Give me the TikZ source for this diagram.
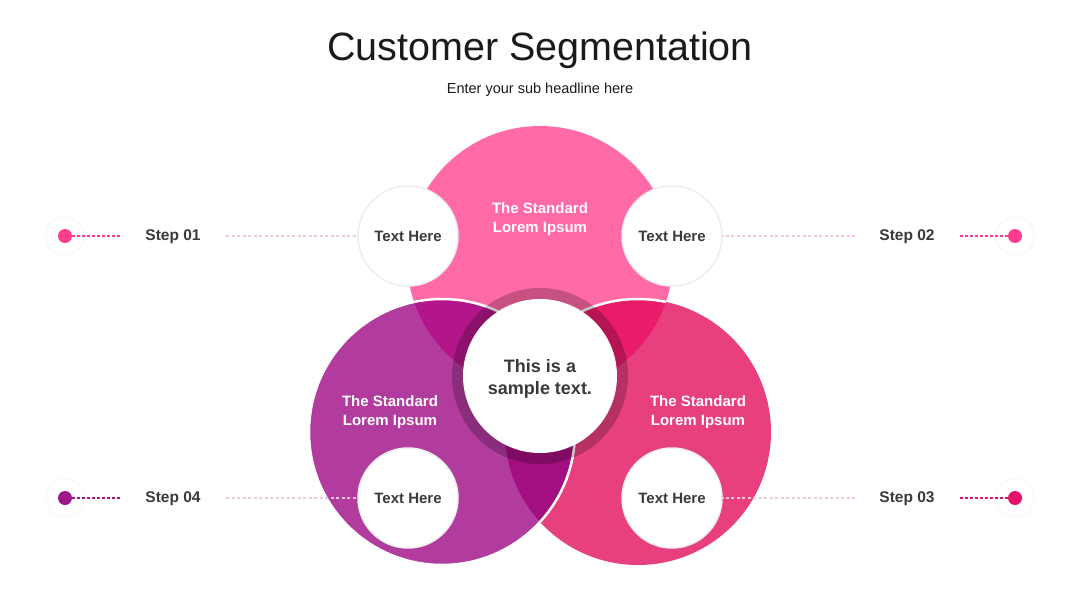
\documentclass[tikz,border=0pt]{standalone}
\usepackage{fontspec}
\setmainfont{Liberation Sans}
\definecolor{ctop}{HTML}{FF6AA7}
\definecolor{cleft}{HTML}{B23C9E}
\definecolor{cright}{HTML}{E8407F}
\definecolor{ctl}{HTML}{B3168A}
\definecolor{ctr}{HTML}{E91C6A}
\definecolor{clr}{HTML}{A30F80}
\definecolor{dpink}{HTML}{FF3D8F}
\definecolor{dpurple}{HTML}{A0168A}
\definecolor{dred}{HTML}{E2126A}
\definecolor{faint}{HTML}{F3C6D9}
\definecolor{txt}{HTML}{3A3A3A}
\definecolor{ttl}{HTML}{1A1A1A}
\tikzset{
  smallc/.style={circle, fill=white, draw=black!7, line width=1.5pt, minimum size=100pt, inner sep=0pt, font=\bfseries\fontsize{15}{18}\selectfont, text=txt},
  steplbl/.style={font=\bfseries\fontsize{15.5}{18}\selectfont, text=txt},
  whitelbl/.style={font=\bfseries\fontsize{15}{19}\selectfont, text=white, align=center},
  dotdash/.style={line width=1.3pt, dash pattern=on 3pt off 2pt},
  faintdash/.style={faint, line width=1.2pt, dash pattern=on 3pt off 2.5pt},
  halo/.style={draw=black!3, line width=1pt, fill=white},
}
\begin{document}
\begin{tikzpicture}[x=1pt,y=-1pt]
\useasboundingbox (0,0) rectangle (1080,608);
\fill[white] (0,0) rectangle (1080,608);
% title
\node[font=\fontsize{39.5}{44}\selectfont, text=ttl] (title) at (540,50) {Customer Segmentation};
\node[font=\fontsize{14.5}{16}\selectfont, text=ttl] (sub) at (540,90) {Enter your sub headline here};
% centres
\coordinate (T) at (540,259);
\coordinate (L) at (442,432);
\coordinate (R) at (638,432);
\coordinate (C) at (540,376);
% big circles
\fill[ctop] (T) circle (133);
\fill[cright] (R) circle (133);
\fill[cleft] (L) circle (133);
% lenses
\begin{scope}\clip (T) circle (133); \fill[ctl] (L) circle (133); \end{scope}
\begin{scope}\clip (T) circle (133); \fill[ctr] (R) circle (133); \end{scope}
\begin{scope}\clip (L) circle (133); \fill[clr] (R) circle (133); \end{scope}
% white outlines
\draw[white, line width=2.5pt] (L) circle (133);
\begin{scope}\clip (T) circle (133); \draw[white, line width=2.5pt] (R) circle (133); \end{scope}
% faint dashed lines
\coordinate (a1) at (226,236); \coordinate (a2) at (855,236);
\coordinate (a4) at (226,498); \coordinate (a3) at (855,498);
\node[smallc] (t1) at (408,236) {Text Here};
\node[smallc] (t2) at (672,236) {Text Here};
\node[smallc] (t4) at (408,498) {Text Here};
\node[smallc] (t3) at (672,498) {Text Here};
\draw[faintdash] (a1) -- (t1.west);
\draw[faintdash] (a2) -- (t2.east);
\draw[faintdash] (a4) -- (t4.west);
\draw[faintdash] (a3) -- (t3.east);
% centre
\fill[black, opacity=0.22] (C) circle (88);
\node[circle, fill=white, minimum size=154pt, inner sep=0pt, font=\bfseries\fontsize{18}{22}\selectfont, text=txt, align=center] (c) at (C) {};
\node[font=\bfseries\fontsize{18}{22}\selectfont, text=txt, align=center] (ct) at (540,379) {This is a\\sample text.};
% white labels
\node[whitelbl] (w1) at (540,219) {The Standard\\Lorem Ipsum};
\node[whitelbl] (w4) at (390,412) {The Standard\\Lorem Ipsum};
\node[whitelbl] (w3) at (698,412) {The Standard\\Lorem Ipsum};
% steps
\node[steplbl] (s1) at (173,237) {Step 01};
\node[steplbl] (s2) at (907,237) {Step 02};
\node[steplbl] (s4) at (173,499) {Step 04};
\node[steplbl] (s3) at (907,499) {Step 03};
% dots
\draw[halo] (65,236) circle (19);
\draw[halo] (65,498) circle (19);
\draw[halo] (1015,236) circle (19);
\draw[halo] (1015,498) circle (19);
\node[circle, fill=dpink, minimum size=14pt, inner sep=0pt] (d1) at (65,236) {};
\node[circle, fill=dpurple, minimum size=14pt, inner sep=0pt] (d4) at (65,498) {};
\node[circle, fill=dpink, minimum size=14pt, inner sep=0pt] (d2) at (1015,236) {};
\node[circle, fill=dred, minimum size=14pt, inner sep=0pt] (d3) at (1015,498) {};
\coordinate (e1) at (122,236); \coordinate (e4) at (122,498);
\coordinate (e2) at (958,236); \coordinate (e3) at (958,498);
\draw[dotdash, dpink] (d1.east) -- (e1);
\draw[dotdash, dpurple] (d4.east) -- (e4);
\draw[dotdash, dpink] (d2.west) -- (e2);
\draw[dotdash, dred] (d3.west) -- (e3);
\end{tikzpicture}
\end{document}
